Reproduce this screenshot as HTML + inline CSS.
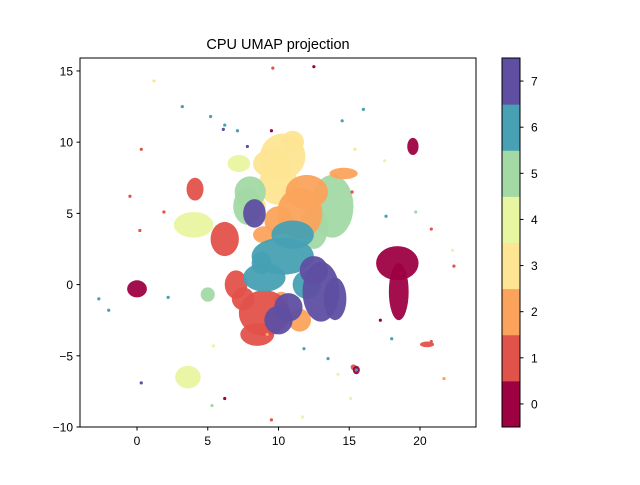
<!DOCTYPE html>
<html><head><meta charset="utf-8"><style>
body{margin:0;background:#fff;}
svg{font-family:"Liberation Sans","DejaVu Sans",sans-serif;}
</style></head><body>
<svg id="chart" width="640" height="480" xmlns="http://www.w3.org/2000/svg">
<defs><clipPath id="clip"><rect x="80" y="58" width="396" height="369"/></clipPath></defs>
<rect width="640" height="480" fill="#fff"/>
<text x="278" y="49" text-anchor="middle" font-size="14.5">CPU UMAP projection</text>
<g id="plot" clip-path="url(#clip)"></g>
<rect x="80" y="58" width="396" height="369" fill="none" stroke="#000" stroke-width="1"/>
<g id="xaxis"></g>
<g id="yaxis"></g>
<g id="cbar"></g>
</svg>
<script>
const colors = ["#9e0142","#e1524a","#fba35c","#fee593","#e9f6a1","#a2d9a4","#47a0b3","#5e4fa2"];
const cbLabels = ["0","1","2","3","4","5","6","7"];
const xTicks = [0,5,10,15,20];
const yTicks = [-10,-5,0,5,10,15];
// cluster blobs: label, x, y, rx, ry (data units)
const blobLabel = [3,3,3,3,3,4,4,4,5,5,5,5,5,2,2,2,2,2,2,2,1,1,1,1,1,1,1,1,6,6,6,6,6,7,7,7,7,7,7,0,0,0,0,0];
const blobX =     [10.3,10,8.2,9.5,11,7.2,4,3.6,13.8,8,5,7.8,12.5,11.5,10,14.6,10.2,12,9,11.5,9,7,6.2,4.1,20.5,15.3,8.5,7.5,10.3,12,8.8,9,11,13,10.7,8.3,12.5,14,10,18.4,18.5,19.5,0,15.5];
const blobY =     [9,7,5.5,8.5,10,8.5,4.2,-6.5,5.5,6.5,-0.7,5.5,4,5,4.5,7.8,-1,6.5,3.5,-2.5,-2,0,3.2,6.7,-4.2,-5.8,-3.5,-1,2,0,1.5,0.5,3.5,-0.5,-1.6,5,1,-1,-2.5,1.5,-0.5,9.7,-0.3,-6];
const blobRX =    [1.6,1.4,0.9,1.3,0.8,0.8,1.4,0.9,1.5,1.1,0.5,1.0,1.0,1.6,1.0,1.0,0.5,1.5,0.8,0.8,1.8,0.8,1.0,0.6,0.5,0.2,1.2,0.8,2.2,1.0,0.7,1.5,1.5,1.3,1.0,0.8,1.0,0.8,1.0,1.5,0.7,0.4,0.7,0.25];
const blobRY =    [1.6,1.4,0.9,1.0,0.8,0.6,0.9,0.8,2.2,1.1,0.5,1.3,1.5,1.8,1.0,0.4,0.5,1.2,0.6,0.8,1.6,1.0,1.2,0.8,0.2,0.2,0.8,0.8,1.3,1.0,0.8,1.0,1.0,2.1,1.0,1.0,1.0,1.5,1.0,1.2,2.0,0.6,0.6,0.3];
// scattered outlier points
const ptLabel = [1,0,3,6,6,6,6,7,1,0,1,6,6,4,1,1,6,6,5,4,0,1,6,2,4,6,4,3,1,1,2,6,6,4,1,7,7,6,6,0,5,1,4];
const ptX =     [9.6,12.5,1.2,3.2,5.2,6.2,7.1,6.1,0.3,9.5,-0.5,-2,-2.7,22.3,20.8,22.4,15.5,13.5,5.3,15.1,6.2,9.5,2.2,9.2,5.4,11.8,14.2,15.4,1.9,15.2,21.7,16,14.5,17.5,20.8,0.3,7.8,17.6,18,17.2,19.7,0.2,11.7];
const ptY =     [15.2,15.3,14.3,12.5,11.8,11.2,10.8,10.9,9.5,10.8,6.2,-1.8,-1,2.4,-4,1.3,-6,-5.2,-8.5,-8,-8,-9.5,-0.9,-3.5,-4.3,-4.5,-6.3,9.5,5.1,6.5,-6.6,12.3,11.5,8.7,3.9,-6.9,9.7,4.8,-3.8,-2.5,5.1,3.8,-9.3];
const NS="http://www.w3.org/2000/svg";
const X0=80,X1=476,Y0=58,Y1=427,xmin=-4.03,xmax=23.96,ymin=-10,ymax=15.91;
const sx=v=>X0+(v-xmin)/(xmax-xmin)*(X1-X0);
const sy=v=>Y1-(v-ymin)/(ymax-ymin)*(Y1-Y0);
const plot=document.getElementById('plot');
for(let i=0;i<blobLabel.length;i++){
  const e=document.createElementNS(NS,'ellipse');
  e.setAttribute('cx',sx(blobX[i]));e.setAttribute('cy',sy(blobY[i]));
  e.setAttribute('rx',blobRX[i]*(X1-X0)/(xmax-xmin));
  e.setAttribute('ry',blobRY[i]*(Y1-Y0)/(ymax-ymin));
  e.setAttribute('fill',colors[blobLabel[i]]);e.setAttribute('opacity','0.95');
  
  
  plot.appendChild(e);
}
for(let i=0;i<ptLabel.length;i++){
  const c=document.createElementNS(NS,'circle');
  c.setAttribute('cx',sx(ptX[i]));c.setAttribute('cy',sy(ptY[i]));c.setAttribute('r',1.6);
  c.setAttribute('fill',colors[ptLabel[i]]);
  
  
  plot.appendChild(c);
}
const xa=document.getElementById('xaxis');
xTicks.forEach(t=>{
  const x=sx(t);
  xa.insertAdjacentHTML('beforeend',`<line x1="${x}" y1="427" x2="${x}" y2="430.5" stroke="#000"/><text x="${x}" y="445" text-anchor="middle" font-size="12">${t}</text>`);
});
const ya=document.getElementById('yaxis');
yTicks.forEach(t=>{
  const y=sy(t);
  ya.insertAdjacentHTML('beforeend',`<line x1="76.5" y1="${y}" x2="80" y2="${y}" stroke="#000"/><text x="73" y="${y+4.5}" text-anchor="end" font-size="12">${t<0?'\u2212'+(-t):t}</text>`);
});
const cb=document.getElementById('cbar');
const cbX=502,cbW=18,cbT=58,cbB=427,bh=(cbB-cbT)/colors.length;
colors.forEach((c,i)=>{
  const y=cbB-(i+1)*bh;
  cb.insertAdjacentHTML('beforeend',`<rect x="${cbX}" y="${y}" width="${cbW}" height="${bh+0.5}" fill="${c}"/><line x1="520" y1="${y+bh/2}" x2="523.5" y2="${y+bh/2}" stroke="#000"/><text x="531" y="${y+bh/2+4.5}" font-size="12">${cbLabels[i]}</text>`);
});
cb.insertAdjacentHTML('beforeend',`<rect x="${cbX}" y="${cbT}" width="${cbW}" height="${cbB-cbT}" fill="none" stroke="#000"/>`);
</script>
</body></html>
